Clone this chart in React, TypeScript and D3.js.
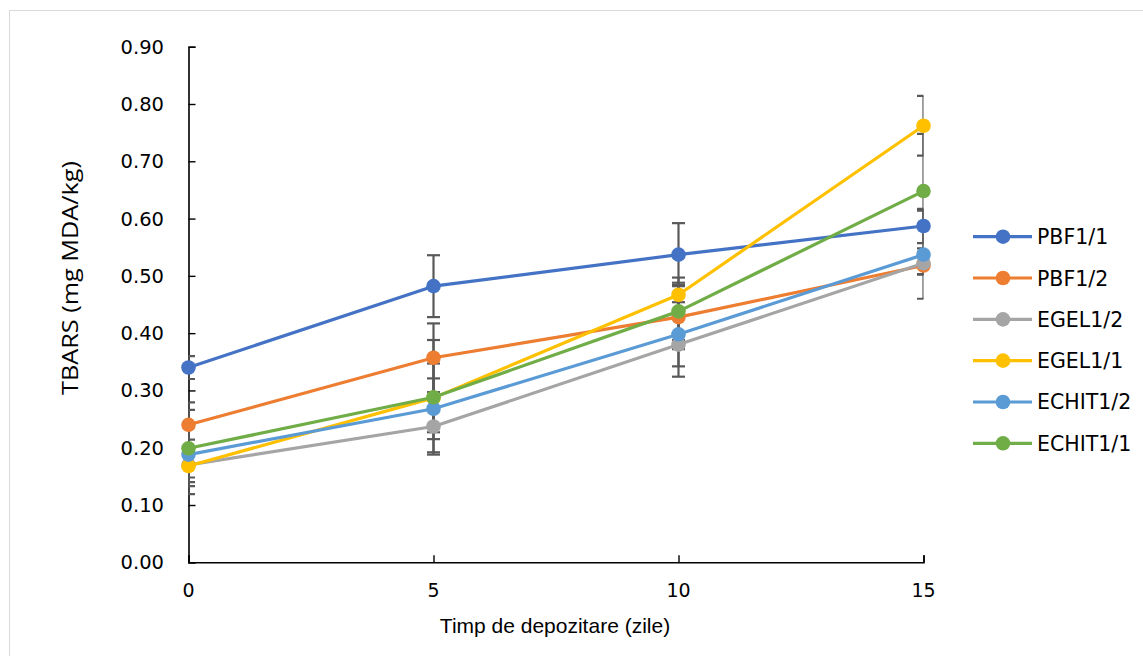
import React, { useEffect, useRef } from "react";
import * as d3 from "d3";

// zile de depozitare
const days = [0, 5, 10, 15];
const yTicks = [0, 0.1, 0.2, 0.3, 0.4, 0.5, 0.6, 0.7, 0.8, 0.9];
const seriesNames = ["PBF1/1", "PBF1/2", "EGEL1/2", "EGEL1/1", "ECHIT1/2", "ECHIT1/1"];
const seriesColors = ["#4472C4", "#ED7D31", "#A5A5A5", "#FFC000", "#5B9BD5", "#70AD47"];

const pbf11 = [0.34, 0.482, 0.537, 0.587];
const pbf12 = [0.24, 0.357, 0.428, 0.518];
const egel12 = [0.17, 0.237, 0.38, 0.522];
const egel11 = [0.168, 0.287, 0.467, 0.762];
const echit12 = [0.188, 0.268, 0.398, 0.537];
const echit11 = [0.199, 0.288, 0.438, 0.648];

// erori (abatere standard)
const pbf11Err = [0.02, 0.054, 0.055, 0.03];
const pbf12Err = [0.026, 0.06, 0.056, 0.015];
const egel12Err = [0.03, 0.045, 0.056, 0.02];
const egel11Err = [0.02, 0.06, 0.03, 0.052];
const echit12Err = [0.055, 0.053, 0.056, 0.077];
const echit11Err = [0.08, 0.1, 0.05, 0.1];

const seriesValues = [pbf11, pbf12, egel12, egel11, echit12, echit11];
const seriesErrors = [pbf11Err, pbf12Err, egel12Err, egel11Err, echit12Err, echit11Err];

const App = () => {
    const svgRef = useRef<SVGSVGElement | null>(null);

    useEffect(() => {
        const svg = d3.select(svgRef.current);
        svg.selectAll("*").remove();

        const width = 1143;
        const height = 656;
        const left = 188.5;
        const right = 923.5;
        const top = 46.7;
        const bottom = 562.3;

        // chenar
        svg.append("rect")
            .attr("x", 9.5)
            .attr("y", 10.5)
            .attr("width", width + 20)
            .attr("height", height + 20)
            .attr("fill", "#fff")
            .attr("stroke", "#d9d9d9")
            .attr("stroke-width", 1);

        const xScale = d3.scaleLinear().domain([0, 15]).range([left, right]);
        const yScale = d3.scaleLinear().domain([0, 0.9]).range([bottom, top]);

        // axa Y
        const yAxis = d3.axisRight(yScale)
            .tickValues(yTicks)
            .tickSize(7)
            .tickFormat(() => "");
        const gy = svg.append("g").attr("transform", `translate(${left},0)`).call(yAxis);
        gy.select(".domain").attr("stroke", "#000").attr("stroke-width", 1.6);
        gy.selectAll(".tick line").attr("stroke", "#000").attr("stroke-width", 1.4);

        svg.selectAll(".ylab")
            .data(yTicks)
            .enter()
            .append("text")
            .attr("class", "ylab")
            .attr("x", 164)
            .attr("y", (d) => yScale(d) + 7)
            .attr("text-anchor", "end")
            .attr("font-family", "DejaVu Sans")
            .attr("font-size", 19.5)
            .attr("fill", "#000")
            .text((d) => d.toFixed(2));

        // axa X
        const xAxis = d3.axisTop(xScale)
            .tickValues(days)
            .tickSize(7)
            .tickFormat(() => "");
        const gx = svg.append("g").attr("transform", `translate(0,${bottom})`).call(xAxis);
        gx.select(".domain").attr("stroke", "#000").attr("stroke-width", 1.6);
        gx.selectAll(".tick line").attr("stroke", "#000").attr("stroke-width", 1.4);

        svg.selectAll(".xlab")
            .data(days)
            .enter()
            .append("text")
            .attr("class", "xlab")
            .attr("x", (d) => xScale(d))
            .attr("y", 597)
            .attr("text-anchor", "middle")
            .attr("font-family", "DejaVu Sans")
            .attr("font-size", 19)
            .attr("fill", "#000")
            .text((d) => String(d));

        // titluri axe
        svg.append("text")
            .attr("x", 555)
            .attr("y", 633)
            .attr("text-anchor", "middle")
            .attr("font-family", "Liberation Sans")
            .attr("font-size", 21)
            .attr("fill", "#000")
            .text("Timp de depozitare (zile)");

        svg.append("text")
            .attr("transform", "translate(78,278) rotate(-90)")
            .attr("text-anchor", "middle")
            .attr("font-family", "Open Sans")
            .attr("font-size", 22)
            .attr("textLength", 234)
            .attr("lengthAdjust", "spacingAndGlyphs")
            .attr("fill", "#000")
            .text("TBARS (mg MDA/kg)");

        // bare de eroare, taiate la zona graficului
        svg.append("clipPath")
            .attr("id", "plotClip")
            .append("rect")
            .attr("x", left)
            .attr("y", 0)
            .attr("width", right - left)
            .attr("height", bottom);

        const gErr = svg.append("g").attr("clip-path", "url(#plotClip)");
        seriesValues.forEach((vals, si) => {
            vals.forEach((v, i) => {
                const e = seriesErrors[si][i];
                const x = xScale(days[i]);
                const y1 = yScale(v + e);
                const y2 = yScale(v - e);
                gErr.append("line")
                    .attr("x1", x).attr("x2", x)
                    .attr("y1", y1).attr("y2", y2)
                    .attr("stroke", "#595959").attr("stroke-width", 2.2);
                [y1, y2].forEach((yy) => {
                    gErr.append("line")
                        .attr("x1", x - 6.5).attr("x2", x + 6.5)
                        .attr("y1", yy).attr("y2", yy)
                        .attr("stroke", "#595959").attr("stroke-width", 2.2);
                });
            });
        });

        // serii
        const line = d3.line<number>()
            .x((d, i) => xScale(days[i]))
            .y((d) => yScale(d));

        seriesValues.forEach((vals, si) => {
            svg.append("path")
                .datum(vals)
                .attr("fill", "none")
                .attr("stroke", seriesColors[si])
                .attr("stroke-width", 3.2)
                .attr("stroke-linejoin", "round")
                .attr("d", line);
            svg.selectAll(`.pt${si}`)
                .data(vals)
                .enter()
                .append("circle")
                .attr("class", `pt${si}`)
                .attr("cx", (d, i) => xScale(days[i]))
                .attr("cy", (d) => yScale(d))
                .attr("r", 7.3)
                .attr("fill", seriesColors[si]);
        });

        // legenda
        const legY = d3.scaleLinear().domain([0, 5]).range([236.7, 443.3]);
        seriesNames.forEach((name, si) => {
            const yy = legY(si);
            svg.append("line")
                .attr("x1", 973).attr("x2", 1032)
                .attr("y1", yy).attr("y2", yy)
                .attr("stroke", seriesColors[si])
                .attr("stroke-width", 3.2);
            svg.append("circle")
                .attr("cx", 1003).attr("cy", yy).attr("r", 7.3)
                .attr("fill", seriesColors[si]);
            svg.append("text")
                .attr("x", 1037)
                .attr("y", yy + 7.5)
                .attr("font-family", "DejaVu Sans")
                .attr("font-size", 20.5)
                .attr("fill", "#000")
                .text(name);
        });
    }, []);

    return (
        <svg
            ref={svgRef}
            width={1143}
            height={656}
            style={{ position: "absolute", left: 0, top: 0, background: "#fff" }}
        ></svg>
    );
};

export default App;
